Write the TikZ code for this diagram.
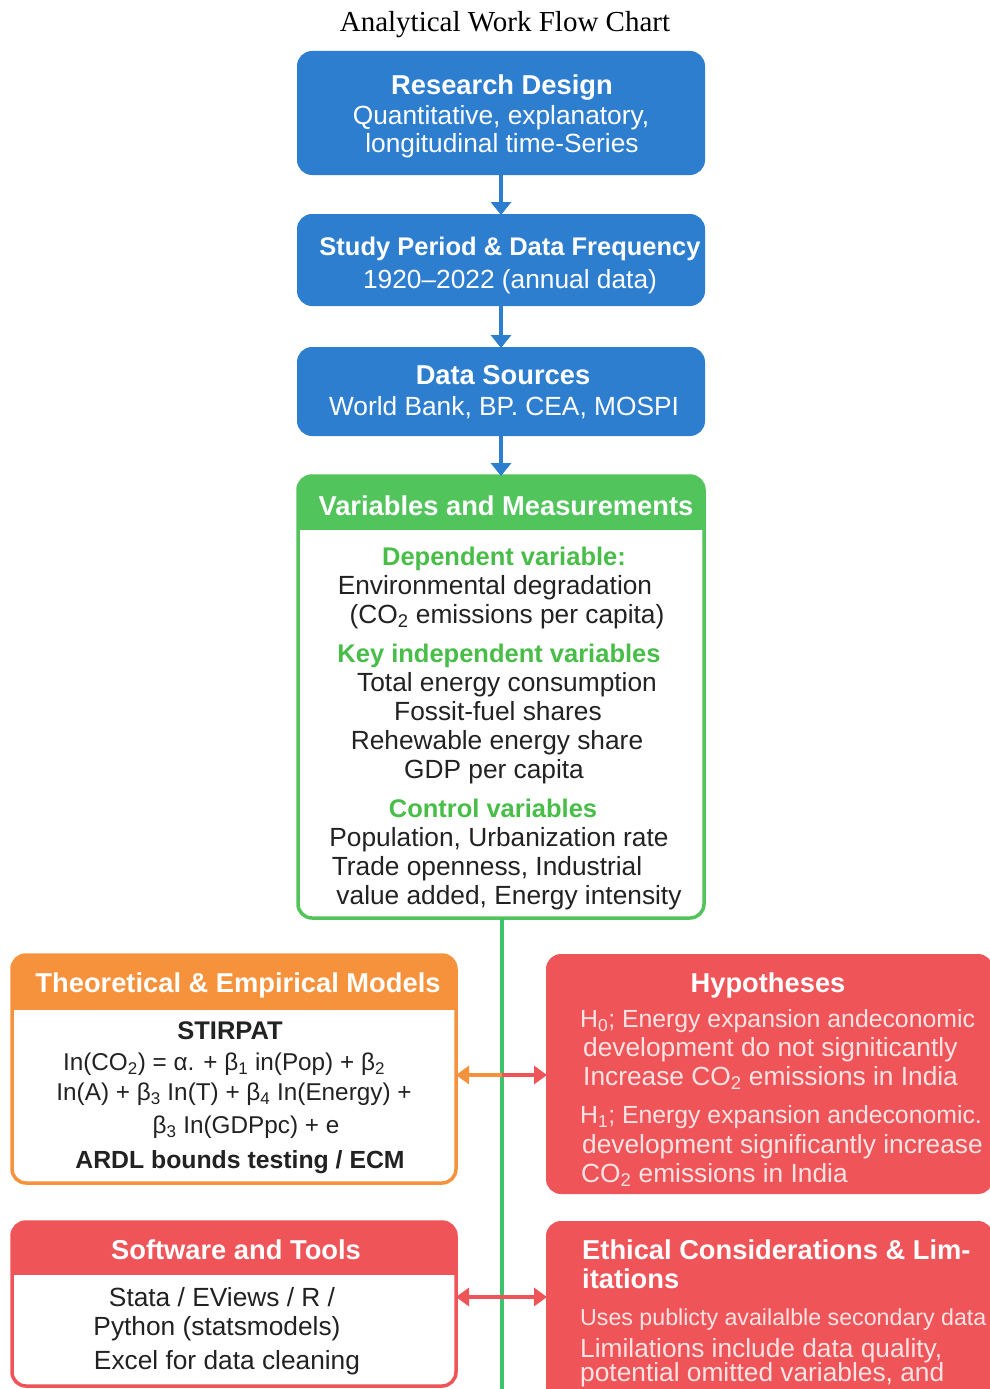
\documentclass[tikz,border=0pt]{standalone}
\usepackage{fontspec}
\setmainfont{Liberation Serif}
\newfontfamily\sansf[Ligatures=TeX]{Liberation Sans}
\usetikzlibrary{arrows.meta}
\definecolor{cblue}{RGB}{46,126,208}
\definecolor{cgreen}{RGB}{82,196,92}
\definecolor{cgline}{RGB}{62,194,106}
\definecolor{cgtext}{RGB}{72,190,72}
\definecolor{corange}{RGB}{247,146,60}
\definecolor{cred}{RGB}{239,84,89}
\definecolor{cdark}{RGB}{34,34,34}
\definecolor{cpink}{RGB}{253,228,228}
\newcommand{\sbs}[1]{\textsubscript{#1}}
\tikzset{
  bodyfont/.style={font=\sansf\fontsize{26.3}{30}\selectfont},
  titlefont/.style={font=\sansf\bfseries\fontsize{27.3}{31}\selectfont},
  bluebox/.style={draw=cblue, fill=cblue, line width=2pt, rounded corners=14pt,
    minimum width=406pt, inner sep=0pt, outer sep=0pt},
  framebox/.style={draw=#1, fill=white, line width=3.5pt, rounded corners=14pt,
    inner sep=0pt, outer sep=0pt},
  solidbox/.style={draw=#1, fill=#1, line width=2pt, rounded corners=14pt,
    inner sep=0pt, outer sep=0pt},
  txt/.style={bodyfont, text=cdark, inner sep=0pt, text height=24pt, text depth=5pt},
  eqtxt/.style={txt, font=\sansf\fontsize{24.3}{30}\selectfont},
  gtxt/.style={font=\sansf\bfseries\fontsize{25.5}{30}\selectfont, text=cgtext, inner sep=0pt, text height=24pt, text depth=5pt},
  wtitle/.style={titlefont, text=white, inner sep=0pt, text height=24pt, text depth=5pt},
  wtxt/.style={bodyfont, text=white, inner sep=0pt, text height=24pt, text depth=5pt},
  ptxt/.style={bodyfont, text=cpink, inner sep=0pt, anchor=west, text height=24pt, text depth=5pt},
  barrow/.style={draw=cblue, line width=4pt, -{Triangle[width=20pt,length=13pt]}},
  oarrow/.style={draw=corange, line width=4pt, -{Triangle[width=18pt,length=13pt]}},
  rarrow/.style={draw=cred, line width=4pt, -{Triangle[width=18pt,length=13pt]}},
  gline/.style={draw=cgline, line width=4pt}
}
\begin{document}
\begin{tikzpicture}[x=1pt,y=-1pt]
\useasboundingbox (0,0) rectangle (990,1389);
\clip (0,0) rectangle (990,1389);
\fill[white] (0,0) rectangle (990,1389);

% title
\node[font=\fontsize{29}{33}\selectfont, inner sep=0pt] (title) at (505,25) {Analytical Work Flow Chart};

% blue boxes
\node[bluebox, minimum height=122pt] (rd) at (501,113) {};
\node[wtitle] (rdt) at (502,85) {Research Design};
\node[wtxt] (rd1) at (501,115) {Quantitative, explanatory,};
\node[wtxt] (rd2) at (502,143) {longitudinal time-Series};

\node[bluebox, minimum height=90pt] (sp) at (501,260) {};
\node[wtitle, font=\sansf\bfseries\fontsize{25.5}{31}\selectfont] (spt) at (510,246) {Study Period \& Data Frequency};
\node[wtxt] (sp1) at (510,279) {1920–2022 (annual data)};

\node[bluebox, minimum height=87pt] (ds) at (501,391.5) {};
\node[wtitle] (dst) at (503,375) {Data Sources};
\node[wtxt] (ds1) at (504,406) {World Bank, BP. CEA, MOSPI};

% variables box
\node[framebox=cgreen, minimum width=406pt, minimum height=442pt] (vm) at (501,697) {};
\begin{scope}
  \clip[rounded corners=14pt] (vm.north west) rectangle (vm.south east);
  \fill[cgreen] (vm.north west) rectangle ([yshift=-54pt]vm.north east);
\end{scope}
\node[wtitle] (vmt) at (506,506) {Variables and Measurements};
\node[gtxt] (v1) at (504,556) {Dependent variable:};
\node[txt] (v2) at (495,585) {Environmental degradation};
\node[txt] (v3) at (507,614) {(CO\sbs{2} emissions per capita)};
\node[gtxt] (v4) at (499,653) {Key independent variables};
\node[txt] (v5) at (507,682) {Total energy consumption};
\node[txt] (v6) at (498,711) {Fossit-fuel shares};
\node[txt] (v7) at (497,740) {Rehewable energy share};
\node[txt] (v8) at (494,769) {GDP per capita};
\node[gtxt] (v9) at (493,808) {Control variables};
\node[txt] (v10) at (499,837) {Population, Urbanization rate};
\node[txt] (v11) at (487,866) {Trade openness, Industrial};
\node[txt] (v12) at (509,895) {value added, Energy intensity};

% theoretical models box
\node[framebox=corange, minimum width=444pt, minimum height=228pt] (tem) at (234,1069) {};
\begin{scope}
  \clip[rounded corners=14pt] (tem.north west) rectangle (tem.south east);
  \fill[corange] (tem.north west) rectangle ([yshift=-55pt]tem.north east);
\end{scope}
\node[wtitle] (temt) at (238,983) {Theoretical \& Empirical Models};
\node[txt, font=\sansf\bfseries\fontsize{25.5}{30}\selectfont] (t1) at (230,1030) {STIRPAT};
\node[eqtxt] (t2) at (224,1061) {In(CO\sbs{2}) = α. + β\sbs{1} in(Pop) + β\sbs{2}};
\node[eqtxt] (t3) at (234,1091) {In(A) + β\sbs{3} In(T) + β\sbs{4} In(Energy) +};
\node[eqtxt] (t4) at (246,1124) {β\sbs{3} In(GDPpc) + e};
\node[txt, font=\sansf\bfseries\fontsize{24.8}{30}\selectfont] (t5) at (240,1159) {ARDL bounds testing / ECM};

% hypotheses box
\node[solidbox=cred, minimum width=445pt, minimum height=238pt] (hyp) at (769.5,1074) {};
\node[wtitle] (hypt) at (768,983) {Hypotheses};
\node[ptxt, font=\sansf\fontsize{24.8}{30}\selectfont] (h1) at (580,1018) {H\sbs{0}; Energy expansion andeconomic};
\node[ptxt] (h2) at (583,1047) {development do not signiticantly};
\node[ptxt] (h3) at (583,1076) {Increase CO\sbs{2} emissions in India};
\node[ptxt, font=\sansf\fontsize{24.8}{30}\selectfont] (h4) at (580,1114) {H\sbs{1}; Energy expansion andeconomic.};
\node[ptxt] (h5) at (582,1144) {development significantly increase};
\node[ptxt] (h6) at (581,1173) {CO\sbs{2} emissions in India};

% software box
\node[framebox=cred, minimum width=444pt, minimum height=164pt] (sw) at (234,1304) {};
\begin{scope}
  \clip[rounded corners=14pt] (sw.north west) rectangle (sw.south east);
  \fill[cred] (sw.north west) rectangle ([yshift=-53pt]sw.north east);
\end{scope}
\node[wtitle] (swt) at (236,1250) {Software and Tools};
\node[txt] (s1) at (222,1297) {Stata / EViews / R /};
\node[txt] (s2) at (217,1326) {Python (statsmodels)};
\node[txt] (s3) at (227,1360) {Excel for data cleaning};

% ethical box
\node[solidbox=cred, minimum width=445pt, minimum height=198pt] (eth) at (769.5,1321) {};
\node[wtitle, anchor=west] (etht1) at (582,1250) {Ethical Considerations \& Lim-};
\node[wtitle, anchor=west] (etht2) at (582,1279) {itations};
\node[ptxt, font=\sansf\fontsize{23.2}{28}\selectfont] (e1) at (580,1316) {Uses publicty availalble secondary data};
\node[ptxt] (e2) at (580,1348) {Limilations include data quality,};
\node[ptxt] (e3) at (580,1372) {potential omitted variables, and};

% connectors
\draw[barrow] (rd.south) -- (sp.north);
\draw[barrow] (sp.south) -- (ds.north);
\draw[barrow] (ds.south) -- (vm.north);
\coordinate (gend) at (502,1395);
\draw[gline] ([xshift=1pt]vm.south) -- (gend);
\coordinate (m1) at (502,1075);
\draw[oarrow] (m1) -- (tem.east |- m1);
\draw[rarrow] (m1) -- (hyp.west |- m1);
\coordinate (m2) at (502,1297);
\draw[rarrow] (m2) -- (sw.east |- m2);
\draw[rarrow] (m2) -- (eth.west |- m2);
\end{tikzpicture}
\end{document}
